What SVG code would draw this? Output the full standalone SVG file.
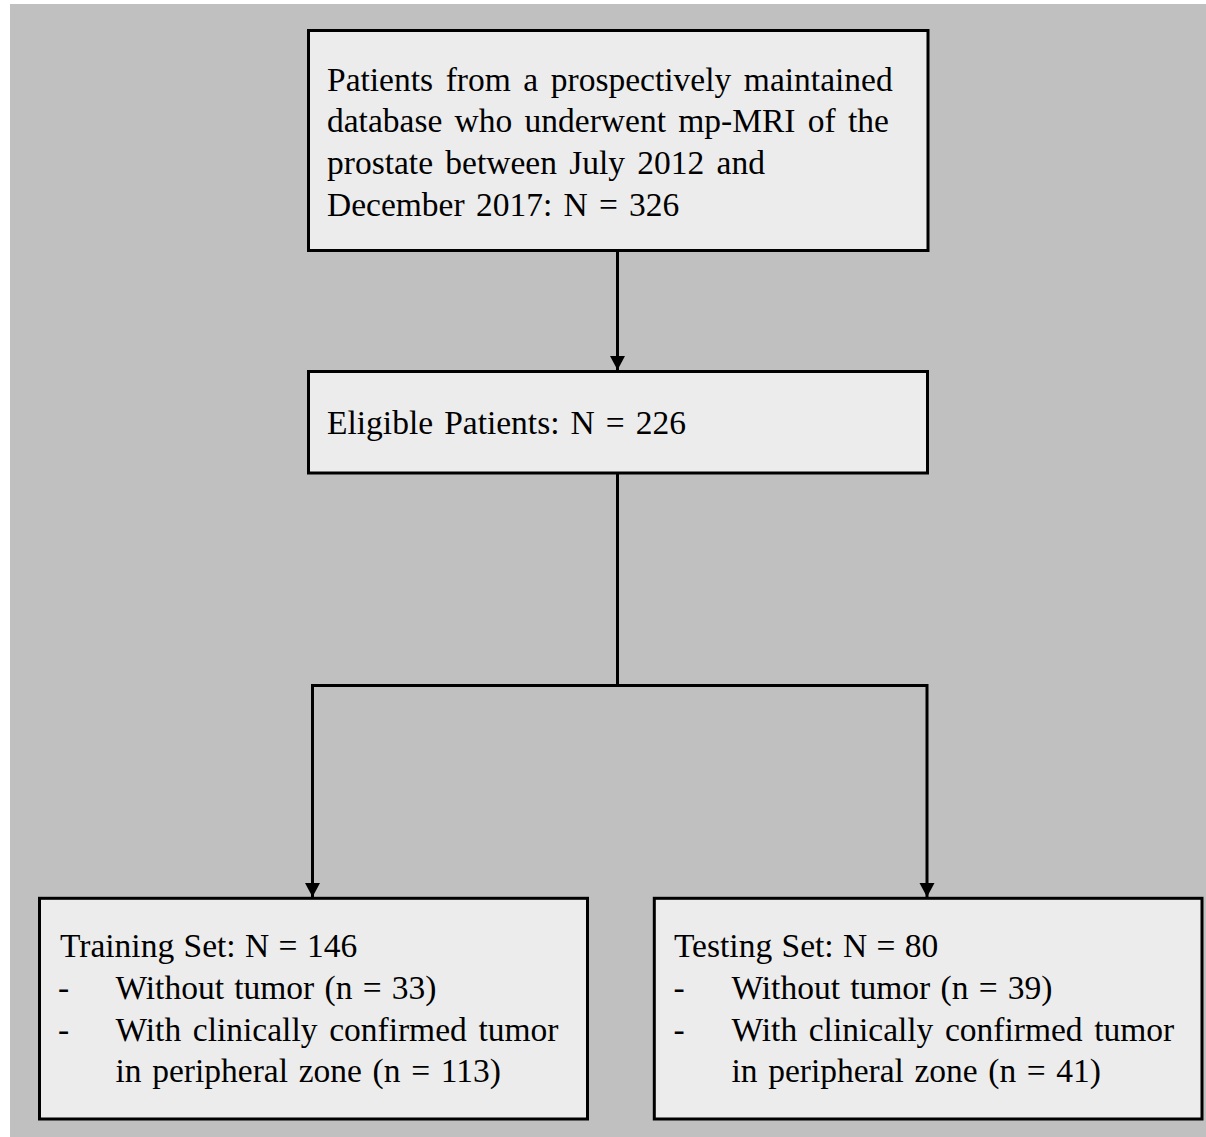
<svg xmlns="http://www.w3.org/2000/svg" width="1206" height="1137" viewBox="0 0 1206 1137">
  <style>
    .box { fill: #ececec; stroke: #000; stroke-width: 3; }
    .txt { font-family: "Liberation Serif", "Times New Roman", serif; font-size: 33.5px; fill: #000; }
    .wire { fill: none; stroke: #000; stroke-width: 3; stroke-linejoin: miter; }
  </style>
  <defs>
    <marker id="arrow" markerUnits="userSpaceOnUse" markerWidth="16" markerHeight="16" refX="14" refY="7.5" orient="auto">
      <path d="M0,0 L14,7.5 L0,15 Z" fill="#000"/>
    </marker>
  </defs>

  <!-- page -->
  <rect x="0" y="0" width="1206" height="1137" fill="#ffffff"/>
  <rect x="10" y="4" width="1196" height="1133" fill="#c0c0c0"/>

  <!-- connectors -->
  <g id="connectors">
    <path class="wire" d="M617.5,252 V370" marker-end="url(#arrow)"/>
    <path class="wire" d="M617.5,474 V685.5"/>
    <path class="wire" d="M619,685.5 H312.5 V897" marker-end="url(#arrow)"/>
    <path class="wire" d="M616,685.5 H927 V897" marker-end="url(#arrow)"/>
  </g>

  <!-- source cohort -->
  <g id="node-cohort">
    <rect class="box" x="308.5" y="30.5" width="619.5" height="220"/>
    <text class="txt">
      <tspan x="327" y="90.7" word-spacing="4.2">Patients from a prospectively maintained</tspan>
      <tspan x="327" y="132.4" word-spacing="3.9">database who underwent mp-MRI of the</tspan>
      <tspan x="327" y="174.1" word-spacing="3.9">prostate between July 2012 and</tspan>
      <tspan x="327" y="215.8" word-spacing="2.9">December 2017: N = 326</tspan>
    </text>
  </g>

  <!-- eligible patients -->
  <g id="node-eligible">
    <rect class="box" x="308.5" y="371.5" width="619" height="101.5"/>
    <text class="txt" x="327" y="434.3" word-spacing="2.7">Eligible Patients: N = 226</text>
  </g>

  <!-- training set -->
  <g id="node-training">
    <rect class="box" x="39.5" y="898.3" width="548" height="220.7"/>
    <text class="txt">
      <tspan x="60" y="957.3" word-spacing="1">Training Set: N = 146</tspan>
      <tspan x="58" y="999">-</tspan>
      <tspan x="115.5" y="999" word-spacing="1.9">Without tumor (n = 33)</tspan>
      <tspan x="58" y="1040.7">-</tspan>
      <tspan x="115.5" y="1040.7" word-spacing="3.3">With clinically confirmed tumor</tspan>
      <tspan x="115.5" y="1082.4" word-spacing="2.3">in peripheral zone (n = 113)</tspan>
    </text>
  </g>

  <!-- testing set -->
  <g id="node-testing">
    <rect class="box" x="654.3" y="898.3" width="547.7" height="220.7"/>
    <text class="txt">
      <tspan x="674" y="957.3" word-spacing="1">Testing Set: N = 80</tspan>
      <tspan x="673.5" y="999">-</tspan>
      <tspan x="731.5" y="999" word-spacing="1.9">Without tumor (n = 39)</tspan>
      <tspan x="673.5" y="1040.7">-</tspan>
      <tspan x="731.5" y="1040.7" word-spacing="3.2">With clinically confirmed tumor</tspan>
      <tspan x="731.5" y="1082.4" word-spacing="2.2">in peripheral zone (n = 41)</tspan>
    </text>
  </g>
</svg>
